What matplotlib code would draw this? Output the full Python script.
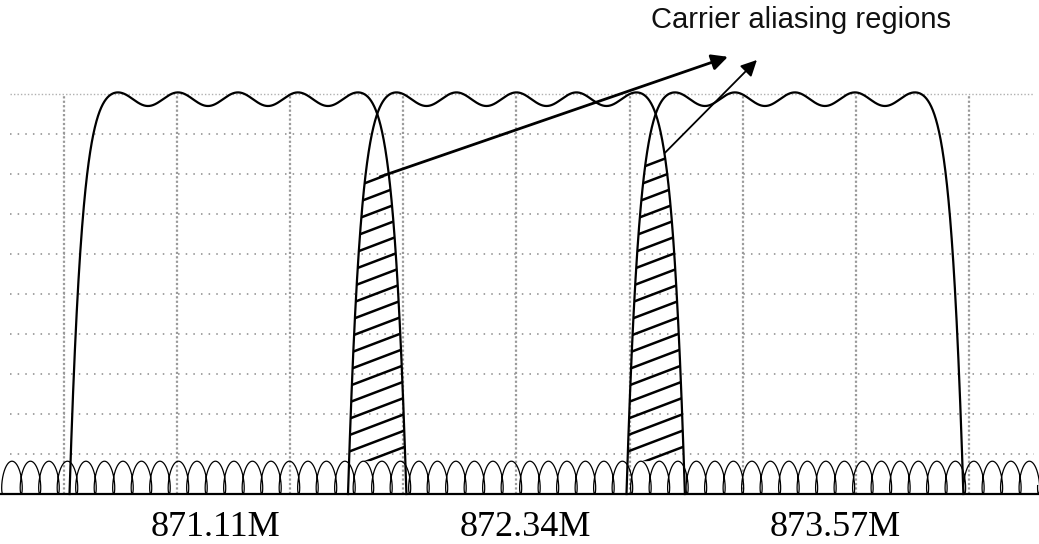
import numpy as np
import matplotlib.pyplot as plt
from matplotlib.patches import Polygon

# Carrier centre frequencies (MHz) and their labels
carriers = [871.11, 872.34, 873.57]
labels = ['871.11M', '872.34M', '873.57M']
label_x = [871.01, 872.38, 873.75]

# Carrier shape (MHz across, grid divisions up)
half_bw = 0.744        # half width at the noise floor
edge_w = 0.221         # width of the roll-off
top_level = 9.87
ripple_amp = 0.17
ripple_period = 0.265

# Noise floor loops
noise_top = 0.82
noise_period = 0.0817

# Screen grid
grid_x = [870.34, 870.84, 871.34, 871.84, 872.34, 872.84, 873.34, 873.84, 874.34]
grid_y = [1, 2, 3, 4, 5, 6, 7, 8, 9]
grid_top = 10

# Hatched aliasing regions stop at the arrow start
arrow_from = [(871.737, 7.93), (872.996, 8.53)]
arrow_to = [(873.274, 10.93), (873.402, 10.85)]
arrow_lw = [2.0, 1.3]

xmin, xmax = 870.059, 874.648
ymin, ymax = -1.25, 12.35


def carrier(fc, f):
    off = f - fc
    lvl = top_level + ripple_amp * np.cos(2 * np.pi * off / ripple_period)
    u = np.clip((half_bw - np.abs(off)) / edge_w, 0, 1)
    return lvl * (1 - (1 - u) ** 4)


fig = plt.figure(figsize=(10.39, 5.44), dpi=100)
ax = fig.add_axes([0, 0, 1, 1])
ax.set_xlim(xmin, xmax)
ax.set_ylim(ymin, ymax)
ax.axis('off')

# grid
gx0, gx1 = xmin + 0.045, xmax - 0.02
for gy in grid_y:
    ax.plot([gx0, gx1], [gy, gy], color='#8a8a8a', lw=1.1,
            linestyle=(0, (1, 4)), zorder=1)
ax.plot([gx0, gx1], [grid_top, grid_top], color='#b0b0b0', lw=1.0,
        linestyle=(0, (1, 1.5)), zorder=1)
for gx in grid_x:
    ax.plot([gx, gx], [0, grid_top], color='#9a9a9a', lw=1.6,
            linestyle=(0, (1, 1)), zorder=1)

# carriers
for fc in carriers:
    f = np.linspace(fc - half_bw, fc + half_bw, 1500)
    ax.plot(f, carrier(fc, f), color='black', lw=1.6, zorder=3)

# hatched overlap regions
slope = 2.15
spacing = 0.41
for i in range(len(carriers) - 1):
    f = np.linspace(carriers[i + 1] - half_bw, carriers[i] + half_bw, 400)
    top = np.minimum(carrier(carriers[i], f), carrier(carriers[i + 1], f))
    top = np.minimum(top, arrow_from[i][1])
    top = np.maximum(top, noise_top)
    verts = np.column_stack([np.r_[f, f[::-1]],
                             np.r_[top, np.full(f.size, noise_top)]])
    patch = Polygon(verts, closed=True, facecolor='none', edgecolor='none')
    ax.add_patch(patch)
    for b in np.arange(noise_top - 1.0, arrow_from[i][1] + 0.1, spacing):
        line, = ax.plot([f[0], f[-1]], [b, b + slope * (f[-1] - f[0])],
                        color='black', lw=1.8, zorder=2)
        line.set_clip_path(patch)

# noise floor
a = noise_period / (2 * np.pi)
c = 1.6 * a
t = np.linspace(0, (xmax - xmin) / a, 20000)
ax.plot(xmin + 0.012 + a * t - c * np.sin(t), noise_top / 2 * (1 - np.cos(t)),
        color='black', lw=0.9, zorder=2)
ax.axhline(0, color='black', lw=1.6, zorder=4)

# arrows and caption
for (x0, y0), (x1, y1), lw in zip(arrow_from, arrow_to, arrow_lw):
    ax.annotate('', xy=(x1, y1), xytext=(x0, y0),
                arrowprops=dict(arrowstyle='-|>', color='black', lw=lw,
                                mutation_scale=24, shrinkA=0, shrinkB=0),
                zorder=5)
ax.text(873.597, 11.65, 'Carrier aliasing regions', ha='center',
        va='baseline', fontsize=21, family='Liberation Sans', color='#111111')

for lx, lab in zip(label_x, labels):
    ax.text(lx, -0.85, lab, ha='center', va='center', fontsize=26,
            family='Liberation Serif', color='black')

fig.savefig('out.png', dpi=100, facecolor='white')
